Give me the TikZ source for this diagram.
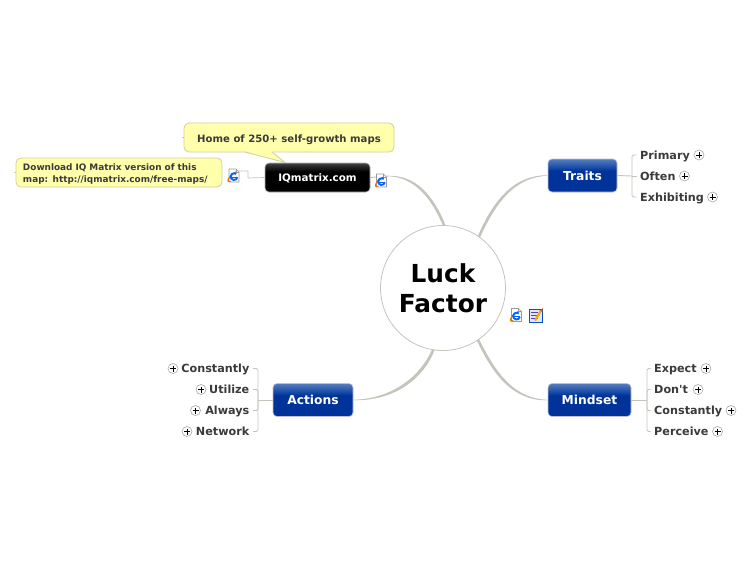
\documentclass[tikz,border=0pt]{standalone}
\usepackage{fontspec}
\setmainfont{DejaVu Sans}
\newfontfamily\plainface{DejaVu Sans}
\usetikzlibrary{calc}
\definecolor{linegray}{HTML}{C4C4BC}
\definecolor{txt}{HTML}{3A3A3A}
\definecolor{noteFill}{HTML}{FFFFAC}
\definecolor{noteEdge}{HTML}{CFCFA0}
\definecolor{blueTop}{HTML}{6F90C6}
\definecolor{blueMid}{HTML}{2A5AAE}
\definecolor{blueBot}{HTML}{003399}
\pgfdeclareverticalshading{blueshade}{100bp}{color(0bp)=(blueBot); color(50bp)=(blueBot); color(57bp)=(blueBot); color(66bp)=(blueMid); color(80bp)=(blueTop); color(100bp)=(blueTop)}
\pgfdeclareverticalshading{blackshade}{100bp}{color(0bp)=(black); color(50bp)=(black); color(60bp)=(black); color(72bp)=(black!80); color(80bp)=(black!55); color(100bp)=(black!55)}
\tikzset{
  x=1pt,y=-1pt,
  branchbox/.style={rounded corners=4pt,draw=#1,line width=.6pt,text=white,font=\bfseries\fontsize{12.3}{14}\selectfont,align=center,inner sep=0pt,text height=9pt,text depth=0pt},
  bluebox/.style={branchbox=blue!25!gray!40!white,shading=blueshade},
  blackbox/.style={branchbox=gray!60,shading=blackshade,font=\bfseries\fontsize{10.3}{12}\selectfont,text height=8pt,text depth=1pt},
  leaf/.style={text=txt,font=\bfseries\fontsize{11.2}{13}\selectfont,inner sep=3.5pt,text height=8.5pt,text depth=0pt},
  plusbox/.style={circle,draw=gray!70,fill=white,line width=.6pt,minimum size=10pt,inner sep=0pt,
    path picture={\draw[black,line width=.8pt] ($(path picture bounding box.center)+(-3,0)$)--++(6,0);
                  \draw[black,line width=.8pt] ($(path picture bounding box.center)+(0,-3)$)--++(0,6);}},
  sub/.style={draw=linegray,line width=.9pt,rounded corners=1.5pt},
  taper/.style={fill=linegray,draw=linegray,line width=.3pt},
  note/.style={rounded corners=5pt,draw=noteEdge,fill=noteFill,line width=.8pt,text=txt,align=left,inner sep=0pt},
  pics/webicon/.style={code={
    \fill[white] (-5,-7) -- (2,-7) -- (5,-4) -- (5,6) -- (-5,6) -- cycle;
    \draw[gray!80,line width=.6pt] (-5,-7) -- (2,-7) -- (5,-4) -- (5,6) -- (-5,6) -- cycle;
    \draw[gray!80,line width=.4pt] (2,-7) -- (2,-4) -- (5,-4);
    \draw[orange!90!black,line width=1.2pt] (-6,5.5) .. controls (-7,3) and (-2,-2) .. (2,-4);
    \draw[blue!60!cyan,line width=1.9pt] (3.4,1.2) arc[start angle=10,end angle=310,radius=3.4];
    \draw[blue!60!cyan,line width=1pt] (-3,1) -- (3.4,1);
    \draw[orange!90!black,line width=.9pt] (-6,5.5) -- (-3,5);
  }},
  pics/noteicon/.style={code={
    \fill[blue!10!white] (-7,-6) rectangle (6,7);
    \draw[blue!60!cyan!80!black,line width=1pt] (-7,-6) rectangle (6,7);
    \foreach \yy in {-3,0,3}{\draw[blue!45!gray,line width=.8pt] (-5,\yy) -- (2,\yy);}
    \draw[orange!70!yellow,line width=2.2pt] (-1,5) -- (5,-5);
    \fill[brown!70!red] (4,-5) -- (6,-4) -- (7,-7.5) -- cycle;
  }}
}
\begin{document}
\begin{tikzpicture}
\useasboundingbox (0,0) rectangle (750,563);
\fill[white] (0,0) rectangle (750,563);

% centre
\node[circle,draw=linegray,fill=white,line width=.8pt,minimum size=125pt,inner sep=0pt,
      font=\bfseries\fontsize{24.8}{30}\selectfont,align=center,text=black] (c) at (443,288) {Luck\\Factor};

% branches
\node[bluebox,minimum width=69pt,minimum height=33pt] (traits) at (582.5,175.5) {Traits};
\node[bluebox,minimum width=83pt,minimum height=33pt] (mindset) at (589.5,400) {Mindset};
\node[bluebox,minimum width=80pt,minimum height=33pt] (actions) at (313,400) {Actions};

% callouts
\node[note,minimum width=210pt,minimum height=29pt,font=\bfseries\fontsize{10.1}{12}\selectfont,text height=9pt,text depth=0pt] (home) at (289,137.5) {Home of 250+ self-growth maps};
\fill[noteFill] (245,151) -- (285,162.5) -- (272,151) -- cycle;
\draw[noteEdge,line width=.8pt] (245,152) -- (285,162.5) -- (272,152);
\node[note,minimum height=29pt,text width=192pt,inner xsep=7pt,font=\bfseries\fontsize{8.9}{11.5}\selectfont] (dl) at (119,172.5) {\rule{0pt}{10pt}Download IQ Matrix version of this\\map: http://iqmatrix.com/free-maps/};
\draw[noteEdge,line width=.6pt] (home.west) -- +(-2,0);
\draw[noteEdge,line width=.6pt] (dl.west) -- +(-2,0);

\node[blackbox,minimum width=105pt,minimum height=29pt] (iq) at (317.5,177.5) {IQmatrix.com};

% tapered connectors
\draw[taper] (c.54.5) .. controls (496.5,200.5) and (515.5,177) .. (traits.west) .. controls (514.5,175) and (494,199.5) .. (c.56.5) -- cycle;
\draw[taper] (c.305.5) .. controls (496.5,375.5) and (515.5,399) .. (mindset.west) .. controls (514.5,401) and (494,376.5) .. (c.303.5) -- cycle;
\draw[taper] (c.262.5) .. controls (424,377) and (396,401) .. (actions.east) .. controls (394,399) and (421,375) .. (c.260.5) -- cycle;
\coordinate (iqc) at (389,176);
\draw[line width=.9pt,linegray] (iq.east) -- (iqc);
\draw[taper] (c.88) .. controls (433.5,195.5) and (415.5,175.5) .. (iqc) .. controls (414.5,177.5) and (431,197) .. (c.90.5) -- cycle;

% small link on left of IQ
\coordinate (ln1) at (248,178);
\coordinate (ln2) at (248,171);
\coordinate (ln3) at (238,171);
\draw[sub,line width=.7pt,rounded corners=.5pt] (iq.west) -- (ln1) -- (ln2) -- (ln3);

% leaves: Traits
\node[leaf,anchor=west] (t1) at (636.5,155) {Primary};
\node[leaf,anchor=west] (t2) at (636.5,176) {Often};
\node[leaf,anchor=west] (t3) at (636.5,197) {Exhibiting};
\coordinate (tj) at (632,176);
\draw[sub] (traits.east) -- (tj);
\draw[sub] (tj) |- (t1.west);
\draw[sub] (tj) -- (t2.west);
\draw[sub] (tj) |- (t3.west);
\node[plusbox] (tp1) at (699,155) {};
\node[plusbox] (tp2) at (684.5,176) {};
\node[plusbox] (tp3) at (712.5,197) {};

% leaves: Mindset
\node[leaf,anchor=west] (m1) at (650.5,368.5) {Expect};
\node[leaf,anchor=west] (m2) at (650.5,389.5) {\plainface\bfseries Don't};
\node[leaf,anchor=west] (m3) at (650.5,410.5) {Constantly};
\node[leaf,anchor=west] (m4) at (650.5,431.5) {Perceive};
\coordinate (mj) at (647,400);
\draw[sub] (mindset.east) -- (mj);
\draw[sub] (mj) |- (m1.west);
\draw[sub] (mj) |- (m2.west);
\draw[sub] (mj) |- (m3.west);
\draw[sub] (mj) |- (m4.west);
\node[plusbox] (mp1) at (706,368.5) {};
\node[plusbox] (mp2) at (698,389.5) {};
\node[plusbox] (mp3) at (731,410.5) {};
\node[plusbox] (mp4) at (717.5,431.5) {};

% leaves: Actions
\node[leaf,anchor=east] (a1) at (253,368.5) {Constantly};
\node[leaf,anchor=east] (a2) at (253,389.5) {Utilize};
\node[leaf,anchor=east] (a3) at (253,410.5) {Always};
\node[leaf,anchor=east] (a4) at (253,431.5) {Network};
\coordinate (aj) at (258,400);
\draw[sub] (actions.west) -- (aj);
\draw[sub] (aj) |- (a1.east);
\draw[sub] (aj) |- (a2.east);
\draw[sub] (aj) |- (a3.east);
\draw[sub] (aj) |- (a4.east);
\node[plusbox] (ap1) at (173,368.5) {};
\node[plusbox] (ap2) at (201,389.5) {};
\node[plusbox] (ap3) at (195.5,410.5) {};
\node[plusbox] (ap4) at (187,431.5) {};

% icons
\pic at (234,176) {webicon};
\pic at (381.5,181) {webicon};
\pic at (516.5,315.5) {webicon};
\pic at (536,315.5) {noteicon};
\end{tikzpicture}
\end{document}
